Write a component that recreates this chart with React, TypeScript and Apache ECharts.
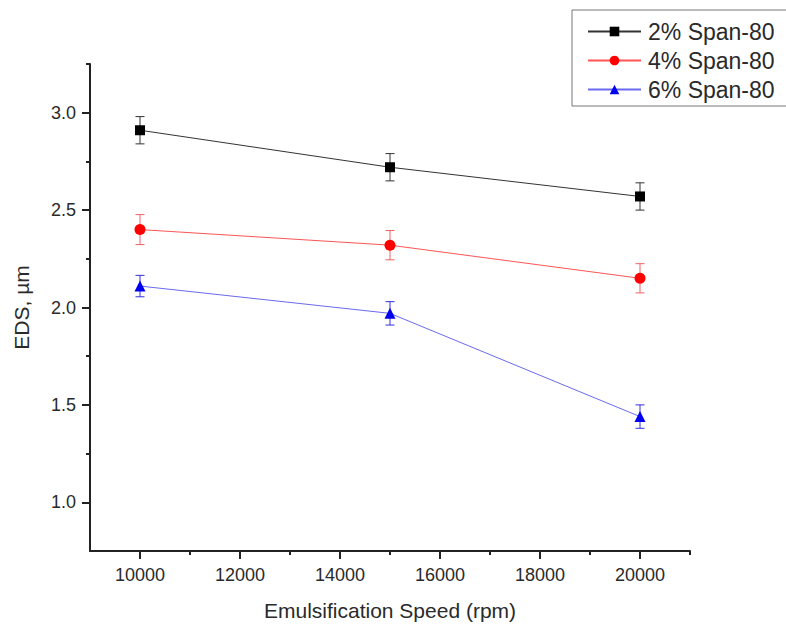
import React, { useEffect, useRef } from "react";
import * as echarts from "echarts";

const speeds = [10000, 15000, 20000];
const span2 = [2.91, 2.72, 2.57];
const span4 = [2.4, 2.32, 2.15];
const span6 = [2.11, 1.97, 1.44];
const err2 = [0.07, 0.07, 0.07];
const err4 = [0.077, 0.075, 0.075];
const err6 = [0.055, 0.06, 0.06];
const seriesNames = ["2% Span-80", "4% Span-80", "6% Span-80"];
const yMajorTicks = [1.0, 1.5, 2.0, 2.5, 3.0];
const yMinorTicks = [1.25, 1.75, 2.25, 2.75, 3.25];
const xMajorTicks = [10000, 12000, 14000, 16000, 18000, 20000];
const xMinorTicks = [11000, 13000, 15000, 17000, 19000, 21000];

const FONT = "'Liberation Sans', Arial, sans-serif";
const TEXT = "#2a2a2a";
const AXIS = "#222";

export default function App() {
  const ref = useRef<HTMLDivElement>(null);
  useEffect(() => {
    if (!ref.current) return;
    const chart = echarts.init(ref.current, null, { renderer: "svg" });

    const mk = (vals: number[]) => speeds.map((s, i) => [s, vals[i]]);
    const mkErr = (vals: number[], errs: number[]) =>
      speeds.map((s, i) => [s, vals[i], errs[i]]);

    const errSeries = (name: string, vals: number[], errs: number[], color: string) => ({
      type: "custom",
      name,
      xAxisIndex: 0,
      yAxisIndex: 0,
      z: 1,
      silent: true,
      encode: { x: 0, y: 1 },
      data: mkErr(vals, errs),
      renderItem: (_p: any, api: any) => {
        const x = api.value(0);
        const y = api.value(1);
        const e = api.value(2);
        const t = api.coord([x, y + e]);
        const b = api.coord([x, y - e]);
        const hw = 4.5;
        const style = { stroke: color, lineWidth: 1, fill: "none" };
        return {
          type: "group",
          children: [
            { type: "line", shape: { x1: t[0], y1: t[1], x2: b[0], y2: b[1] }, style },
            { type: "line", shape: { x1: t[0] - hw, y1: t[1], x2: t[0] + hw, y2: t[1] }, style },
            { type: "line", shape: { x1: b[0] - hw, y1: b[1], x2: b[0] + hw, y2: b[1] }, style },
          ],
        };
      },
    });

    const lineSeries = (name: string, vals: number[], color: string, lineColor: string, symbol: string, size: number) => ({
      type: "line",
      name,
      xAxisIndex: 0,
      yAxisIndex: 0,
      z: 3,
      data: mk(vals),
      symbol,
      symbolSize: size,
      showAllSymbol: true,
      itemStyle: { color },
      lineStyle: { color: lineColor, width: 1 },
    });

    chart.setOption({
      animation: false,
      backgroundColor: "#fff",
      grid: { left: 90, right: 96, top: 64, bottom: 76, containLabel: false },
      legend: {
        data: seriesNames,
        orient: "vertical",
        left: 572,
        top: 10,
        padding: [10, 16, 5, 15],
        itemGap: 6,
        itemWidth: 53,
        itemHeight: 12,
        borderColor: "#777",
        borderWidth: 1,
        textStyle: { fontFamily: FONT, fontSize: 23, color: TEXT, padding: [0, 0, 0, 2] },
      },
      xAxis: [
        {
          type: "value",
          min: 9000,
          max: 21000,
          name: "Emulsification Speed (rpm)",
          nameLocation: "middle",
          nameGap: 49,
          nameTextStyle: { fontFamily: FONT, fontSize: 21, color: TEXT },
          axisLine: { show: true, onZero: false, lineStyle: { color: AXIS, width: 2 } },
          axisTick: { show: true, inside: false, length: 8, customValues: xMajorTicks, lineStyle: { color: AXIS, width: 2 } },
          axisLabel: {
            customValues: xMajorTicks,
            margin: 15,
            fontFamily: FONT,
            fontSize: 18,
            color: TEXT,
            formatter: (v: number) => String(Math.round(v)),
          },
          splitLine: { show: false },
        },
        {
          type: "value",
          min: 9000,
          max: 21000,
          position: "bottom",
          axisLine: { show: false, onZero: false },
          axisTick: { show: true, inside: false, length: 4, customValues: xMinorTicks, lineStyle: { color: AXIS, width: 2 } },
          axisLabel: { show: false },
          splitLine: { show: false },
        },
      ],
      yAxis: [
        {
          type: "value",
          min: 0.75,
          max: 3.25,
          name: "EDS, µm",
          nameLocation: "middle",
          nameGap: 58,
          nameRotate: 90,
          nameTextStyle: { fontFamily: FONT, fontSize: 21, color: TEXT },
          axisLine: { show: true, onZero: false, lineStyle: { color: AXIS, width: 2 } },
          axisTick: { show: true, inside: false, length: 8, customValues: yMajorTicks, lineStyle: { color: AXIS, width: 2 } },
          axisLabel: {
            customValues: yMajorTicks,
            margin: 14,
            fontFamily: FONT,
            fontSize: 18,
            color: TEXT,
            formatter: (v: number) => v.toFixed(1),
          },
          splitLine: { show: false },
        },
        {
          type: "value",
          min: 0.75,
          max: 3.25,
          position: "left",
          axisLine: { show: false, onZero: false },
          axisTick: { show: true, inside: false, length: 4, customValues: yMinorTicks, lineStyle: { color: AXIS, width: 2 } },
          axisLabel: { show: false },
          splitLine: { show: false },
        },
      ],
      series: [
        errSeries("e2", span2, err2, "#333"),
        errSeries("e4", span4, err4, "#f06060"),
        errSeries("e6", span6, err6, "#3030e0"),
        lineSeries(seriesNames[0], span2, "#000", "#333", "rect", 10),
        lineSeries(seriesNames[1], span4, "#f00", "#f55", "circle", 11),
        lineSeries(seriesNames[2], span6, "#0000ee", "#6a6af0", "triangle", 11),
      ],
    });
    return () => chart.dispose();
  }, []);
  return (
    <div
      ref={ref}
      style={{ position: "fixed", left: 0, top: 0, width: 786, height: 627, background: "#fff" }}
    />
  );
}
